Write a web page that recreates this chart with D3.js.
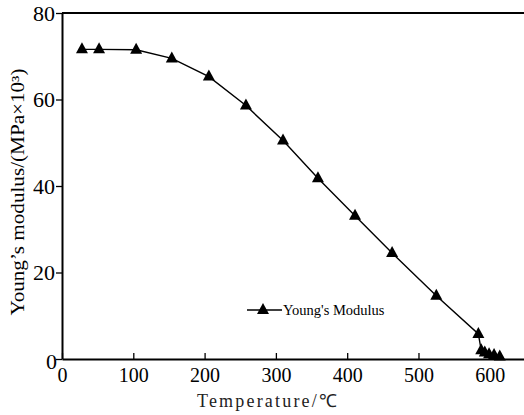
<!DOCTYPE html>
<html>
<head>
<meta charset="utf-8">
<script src="https://cdn.jsdelivr.net/npm/d3@7"></script>
<style>
  html, body { margin: 0; padding: 0; background: #fff; }
  svg { display: block; }
</style>
</head>
<body>
<svg id="chart" width="524" height="415"></svg>
<script>
// Young's modulus measured against temperature
const temperature = [28, 52, 104, 154, 206, 258, 310, 359, 411, 463, 525, 584, 588, 593, 599, 606, 614];
const modulus     = [71.6, 71.6, 71.5, 69.5, 65.3, 58.6, 50.5, 41.8, 33.1, 24.5, 14.6, 5.8, 2.0, 1.5, 1.1, 0.9, 0.6];
const xTicks = [0, 100, 200, 300, 400, 500, 600];
const yTicks = [0, 20, 40, 60, 80];
const seriesName = "Young's Modulus";

const SERIF = "'Liberation Serif', 'Times New Roman', serif";

const svg = d3.select("#chart");
const plotLeft = 62, plotRight = 524, plotTop = 13, plotBottom = 359;

const x = d3.scaleLinear().domain([0, 648]).range([plotLeft, plotRight]);
const y = d3.scaleLinear().domain([0, 80]).range([plotBottom, plotTop]);

// frame: top border line
svg.append("line")
  .attr("x1", plotLeft).attr("x2", plotRight).attr("y1", plotTop).attr("y2", plotTop)
  .attr("stroke", "#000").attr("stroke-width", 2);

// x axis (ticks point inward)
const xAxis = svg.append("g").attr("transform", `translate(0,${plotBottom})`)
  .call(d3.axisBottom(x).tickValues(xTicks).tickSize(-6).tickSizeOuter(0).tickPadding(9));
xAxis.select(".domain").attr("stroke-width", 2);
xAxis.selectAll(".tick line").attr("stroke-width", 1.3);
xAxis.selectAll(".tick text").style("font-family", SERIF).style("font-size", "20px").attr("fill", "#000");

// y axis (ticks point outward)
const yAxis = svg.append("g").attr("transform", `translate(${plotLeft},0)`)
  .call(d3.axisLeft(y).tickValues(yTicks).tickSize(6).tickSizeOuter(0).tickPadding(1));
yAxis.select(".domain").attr("stroke-width", 2);
yAxis.selectAll(".tick line").attr("stroke-width", 1.3);
yAxis.selectAll(".tick text").style("font-family", SERIF).style("font-size", "22px").attr("fill", "#000");
yAxis.selectAll(".tick").filter(d => d === 0).select("text").attr("y", 2).attr("x", -5);

// axis titles
svg.append("text")
  .attr("x", 267).attr("y", 407)
  .attr("text-anchor", "middle")
  .style("font-family", SERIF)
  .style("font-size", "18px")
  .attr("textLength", 140)
  .attr("lengthAdjust", "spacing")
  .attr("fill", "#222")
  .text("Temperature/\u2103");

svg.append("text")
  .attr("transform", `translate(24,192) rotate(-90)`)
  .attr("text-anchor", "middle")
  .style("font-family", SERIF)
  .style("font-size", "18px")
  .attr("textLength", 247)
  .attr("lengthAdjust", "spacingAndGlyphs")
  .attr("fill", "#000")
  .text("Young\u2019s modulus/(MPa\u00d710\u00b3)");

// data line
const pts = temperature.map((t, i) => [t, modulus[i]]);
svg.append("path")
  .datum(pts)
  .attr("fill", "none")
  .attr("stroke", "#000")
  .attr("stroke-width", 1.4)
  .attr("d", d3.line().x(d => x(d[0])).y(d => y(d[1])));

// triangle markers
const tri = "M0,-7 L6,4 L-6,4 Z";
svg.append("g").selectAll("path")
  .data(pts)
  .join("path")
  .attr("transform", d => `translate(${x(d[0])},${y(d[1])})`)
  .attr("d", tri)
  .attr("fill", "#000");

// legend
const lg = svg.append("g").attr("transform", "translate(247,310)");
lg.append("line").attr("x1", 0).attr("x2", 35).attr("y1", 0).attr("y2", 0)
  .attr("stroke", "#000").attr("stroke-width", 1.4);
lg.append("path").attr("d", tri).attr("transform", "translate(16,0)").attr("fill", "#000");
lg.append("text").attr("x", 36).attr("y", 5)
  .style("font-family", SERIF).style("font-size", "14.5px").attr("fill", "#000")
  .text(seriesName);
</script>
</body>
</html>
